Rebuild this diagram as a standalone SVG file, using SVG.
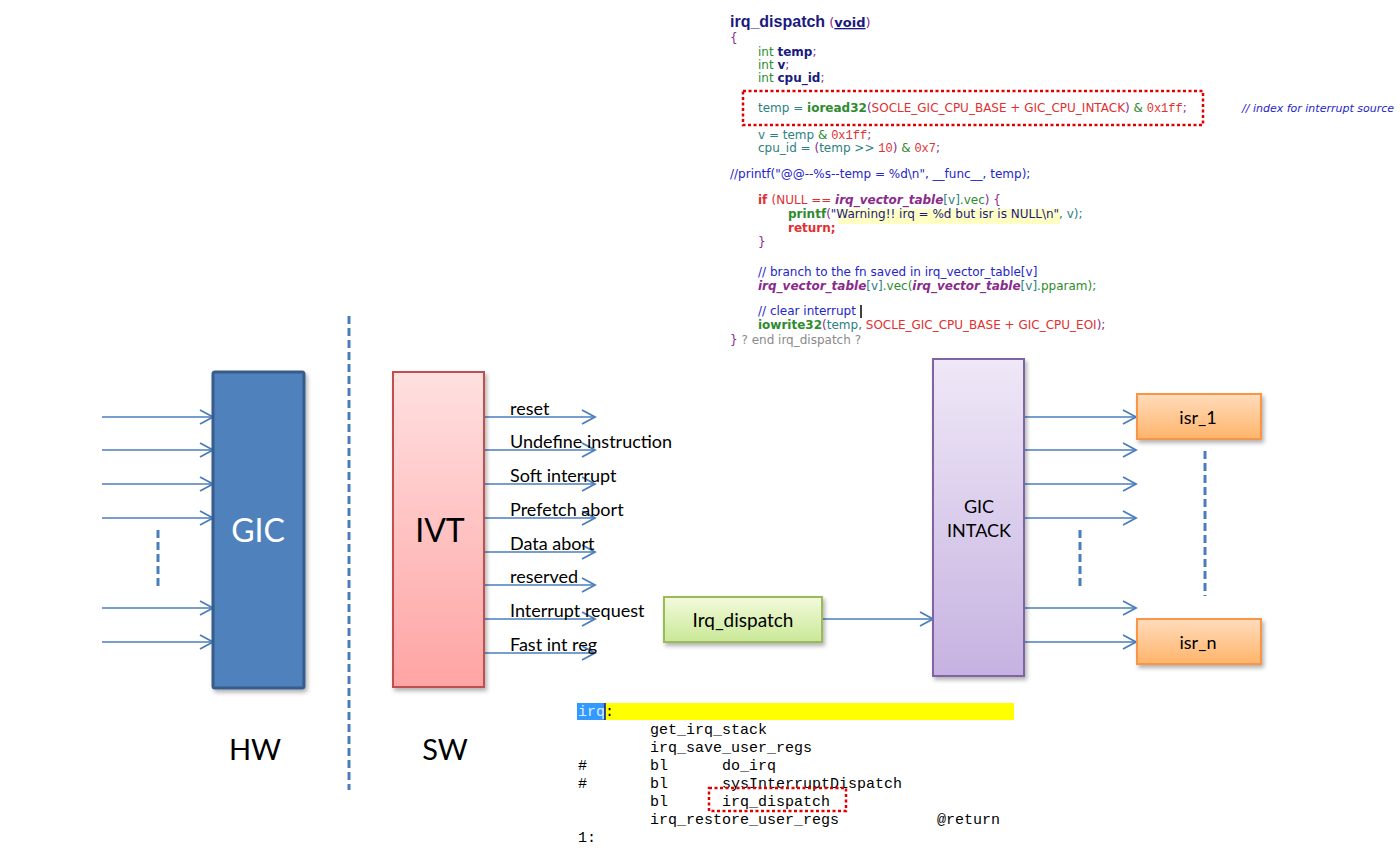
<svg xmlns="http://www.w3.org/2000/svg" width="1400" height="848" viewBox="0 0 1400 848">
<style>
.lbl{font-family:Lato,"Liberation Sans",sans-serif;fill:#000}
.big{font-size:32px}
.arrowlbl{font-size:18px}
.wire{stroke:#4A7EBB;stroke-width:1.6;fill:none}
.dash{stroke:#4A7EBB;stroke-width:3;stroke-dasharray:8 4;fill:none}
.code{font-family:"DejaVu Sans",Verdana,sans-serif;font-size:12px}
.mono{font-family:"Liberation Mono","Courier New",monospace}
.asm{font-family:"Liberation Mono","Courier New",monospace;font-size:15px;fill:#000}
.nv{fill:#1a1a80}.gr{fill:#2e8b2e}.tl{fill:#2b8080}.pu{fill:#8a2a8a}.rd{fill:#e03030}.bl{fill:#2525c8}.gy{fill:#8a8a8a}
.b{font-weight:bold}.it{font-style:italic}
.redbox{fill:none;stroke:#e00000;stroke-width:2.5;stroke-dasharray:3 2.5}
</style>
<defs>
<marker id="ah" markerUnits="userSpaceOnUse" markerWidth="16" markerHeight="18" refX="14" refY="9" orient="auto">
<path d="M1,2 L14,9 L1,16" fill="none" stroke="#4A7EBB" stroke-width="1.8"/>
</marker>
<linearGradient id="gRed" x1="0" y1="0" x2="0" y2="1"><stop offset="0" stop-color="#FFE0E0"/><stop offset="1" stop-color="#FFA4A4"/></linearGradient>
<linearGradient id="gGreen" x1="0" y1="0" x2="0" y2="1"><stop offset="0" stop-color="#F3FADC"/><stop offset="1" stop-color="#C9E896"/></linearGradient>
<linearGradient id="gPurple" x1="0" y1="0" x2="0" y2="1"><stop offset="0" stop-color="#EFE8F7"/><stop offset="1" stop-color="#C6B2E1"/></linearGradient>
<linearGradient id="gOrange" x1="0" y1="0" x2="0" y2="1"><stop offset="0" stop-color="#FFDCBC"/><stop offset="1" stop-color="#FFB46A"/></linearGradient>
<filter id="sh" x="-10%" y="-10%" width="130%" height="130%"><feDropShadow dx="2" dy="3" stdDeviation="2" flood-color="#000" flood-opacity="0.3"/></filter>
</defs>
<rect width="1400" height="848" fill="#fff"/>

<!-- top code -->
<g id="code-irq-dispatch" class="code">
<text x="730" y="27"><tspan class="nv b" style="font-family:'Liberation Sans',Arial,sans-serif;font-size:16px">irq_dispatch</tspan><tspan class="pu" style="font-size:13px"> (</tspan><tspan class="nv b" style="font-size:13px;text-decoration:underline">void</tspan><tspan class="pu" style="font-size:13px">)</tspan></text>
<text x="730" y="42" class="pu">{</text>
<text x="758" y="56"><tspan class="gr">int </tspan><tspan class="nv b">temp</tspan><tspan class="pu">;</tspan></text>
<text x="758" y="69"><tspan class="gr">int </tspan><tspan class="nv b">v</tspan><tspan class="pu">;</tspan></text>
<text x="758" y="82"><tspan class="gr">int </tspan><tspan class="nv b">cpu_id</tspan><tspan class="pu">;</tspan></text>
<rect class="redbox" x="743" y="91" width="460" height="34"/>
<text x="758" y="112"><tspan class="tl">temp = </tspan><tspan class="gr b">ioread32</tspan><tspan class="pu">(</tspan><tspan class="rd">SOCLE_GIC_CPU_BASE + GIC_CPU_INTACK</tspan><tspan class="pu">) </tspan><tspan class="gr">&amp; </tspan><tspan class="rd mono">0x1ff</tspan><tspan class="pu">;</tspan></text>
<text x="1242" y="112" class="bl it" style="font-size:11px">// index for interrupt source</text>
<text x="758" y="139"><tspan class="tl">v = temp </tspan><tspan class="gr">&amp; </tspan><tspan class="rd mono">0x1ff</tspan><tspan class="pu">;</tspan></text>
<text x="758" y="152"><tspan class="tl">cpu_id = </tspan><tspan class="pu">(</tspan><tspan class="tl">temp &gt;&gt; </tspan><tspan class="rd mono">10</tspan><tspan class="pu">) </tspan><tspan class="gr">&amp; </tspan><tspan class="rd mono">0x7</tspan><tspan class="pu">;</tspan></text>
<text x="730" y="178" class="bl">//printf("@@--%s--temp = %d\n", __func__, temp);</text>
<text x="758" y="204"><tspan class="rd b">if </tspan><tspan class="rd">(NULL == </tspan><tspan class="pu b it">irq_vector_table</tspan><tspan class="tl">[v]</tspan><tspan class="gr">.vec</tspan><tspan class="pu">) {</tspan></text>
<rect x="838" y="209" width="222" height="15" fill="#FFFFC4"/>
<text x="788" y="218"><tspan class="gr b">printf</tspan><tspan class="pu">(</tspan><tspan class="nv">"Warning!!  irq = %d but isr is NULL\n"</tspan><tspan class="tl">, v);</tspan></text>
<text x="788" y="232" class="rd b">return;</text>
<text x="758" y="246" class="pu">}</text>
<text x="758" y="276" class="bl">// branch to the fn saved in irq_vector_table[v]</text>
<text x="758" y="290"><tspan class="pu b it">irq_vector_table</tspan><tspan class="tl">[v]</tspan><tspan class="gr">.vec(</tspan><tspan class="pu b it">irq_vector_table</tspan><tspan class="tl">[v]</tspan><tspan class="gr">.pparam);</tspan></text>
<text x="758" y="315" class="bl">// clear interrupt</text>
<line x1="861" y1="305" x2="861" y2="318" stroke="#000" stroke-width="1.5"/>
<text x="758" y="329"><tspan class="gr b">iowrite32</tspan><tspan class="pu">(</tspan><tspan class="tl">temp, </tspan><tspan class="rd">SOCLE_GIC_CPU_BASE + GIC_CPU_EOI</tspan><tspan class="pu">);</tspan></text>
<text x="730" y="344"><tspan class="pu">} </tspan><tspan class="gy">? end irq_dispatch ?</tspan></text>
</g>

<!-- bottom asm code -->
<g id="code-irq-asm" class="asm">
<rect x="577" y="703" width="437" height="17" fill="#FFFF00"/>
<rect x="577" y="703" width="28" height="17" fill="#3399FF"/>
<text x="578" y="716"><tspan fill="#dbeeff">irq</tspan><tspan>:</tspan></text>
<line x1="605" y1="703" x2="605" y2="720" stroke="#1a1a80" stroke-width="1.5"/>
<text x="650" y="734">get_irq_stack</text>
<text x="650" y="752">irq_save_user_regs</text>
<text x="578" y="770">#</text><text x="650" y="770">bl</text><text x="722" y="770">do_irq</text>
<text x="578" y="788">#</text><text x="650" y="788">bl</text><text x="722" y="788">sysInterruptDispatch</text>
<text x="650" y="806">bl</text><text x="722" y="806">irq_dispatch</text>
<rect class="redbox" x="709" y="788" width="137" height="23"/>
<text x="650" y="824">irq_restore_user_regs</text><text x="937" y="824">@return</text>
<text x="578" y="842">1:</text>
</g>

<!-- connectors -->
<g id="connectors" marker-end="url(#ah)">
<line class="wire" x1="102" y1="417" x2="213" y2="417"/>
<line class="wire" x1="102" y1="450" x2="213" y2="450"/>
<line class="wire" x1="102" y1="484" x2="213" y2="484"/>
<line class="wire" x1="102" y1="518" x2="213" y2="518"/>
<line class="wire" x1="102" y1="608" x2="213" y2="608"/>
<line class="wire" x1="102" y1="642" x2="213" y2="642"/>
<line class="wire" x1="484" y1="417" x2="595" y2="417"/>
<line class="wire" x1="484" y1="450" x2="595" y2="450"/>
<line class="wire" x1="484" y1="484" x2="595" y2="484"/>
<line class="wire" x1="484" y1="518" x2="595" y2="518"/>
<line class="wire" x1="484" y1="552" x2="595" y2="552"/>
<line class="wire" x1="484" y1="585" x2="595" y2="585"/>
<line class="wire" x1="484" y1="619" x2="595" y2="619"/>
<line class="wire" x1="484" y1="653" x2="595" y2="653"/>
<line class="wire" x1="822" y1="619" x2="933" y2="619"/>
<line class="wire" x1="1024" y1="417" x2="1136" y2="417"/>
<line class="wire" x1="1024" y1="450" x2="1136" y2="450"/>
<line class="wire" x1="1024" y1="484" x2="1136" y2="484"/>
<line class="wire" x1="1024" y1="518" x2="1136" y2="518"/>
<line class="wire" x1="1024" y1="608" x2="1136" y2="608"/>
<line class="wire" x1="1024" y1="642" x2="1136" y2="642"/>
</g>
<g id="dashes">
<line class="dash" x1="349" y1="316" x2="349" y2="790"/>
<line class="dash" x1="158" y1="530" x2="158" y2="586"/>
<line class="dash" x1="1080" y1="530" x2="1080" y2="586"/>
<line class="dash" x1="1205" y1="451" x2="1205" y2="596"/>
</g>

<!-- nodes -->
<g id="node-gic">
<rect x="213" y="372" width="91" height="316" fill="#4F81BD" stroke="#385D8A" stroke-width="3" rx="2" filter="url(#sh)"/>
<text class="lbl big" x="258" y="542" text-anchor="middle" style="fill:#fff">GIC</text>
</g>
<g id="node-ivt">
<rect x="393" y="372" width="91" height="315" fill="url(#gRed)" stroke="#C0504D" stroke-width="2" filter="url(#sh)"/>
<text class="lbl big" x="440" y="542" text-anchor="middle">IVT</text>
</g>
<g id="ivt-labels" class="lbl arrowlbl">
<text x="510" y="415">reset</text>
<text x="510" y="448">Undefine instruction</text>
<text x="510" y="482">Soft interrupt</text>
<text x="510" y="516">Prefetch abort</text>
<text x="510" y="550">Data abort</text>
<text x="510" y="583">reserved</text>
<text x="510" y="617">Interrupt request</text>
<text x="510" y="651">Fast int reg</text>
</g>
<g id="node-irq-dispatch">
<rect x="664" y="597" width="158" height="45" fill="url(#gGreen)" stroke="#9BBB59" stroke-width="2" filter="url(#sh)"/>
<text class="lbl" x="743" y="627" text-anchor="middle" font-size="19">Irq_dispatch</text>
</g>
<g id="node-gic-intack">
<rect x="933" y="359" width="91" height="317" fill="url(#gPurple)" stroke="#8064A2" stroke-width="2" filter="url(#sh)"/>
<text class="lbl" x="979" y="513" text-anchor="middle" font-size="18">GIC</text>
<text class="lbl" x="979" y="537" text-anchor="middle" font-size="18">INTACK</text>
</g>
<g id="node-isr-1">
<rect x="1137" y="394" width="124" height="45" fill="url(#gOrange)" stroke="#F79646" stroke-width="2" filter="url(#sh)"/>
<text class="lbl" x="1198" y="424" text-anchor="middle" font-size="18">isr_1</text>
</g>
<g id="node-isr-n">
<rect x="1137" y="619" width="124" height="45" fill="url(#gOrange)" stroke="#F79646" stroke-width="2" filter="url(#sh)"/>
<text class="lbl" x="1198" y="649" text-anchor="middle" font-size="18">isr_n</text>
</g>
<g id="labels-hw-sw" class="lbl">
<text x="255" y="760" text-anchor="middle" font-size="29">HW</text>
<text x="445" y="760" text-anchor="middle" font-size="29">SW</text>
</g>
</svg>
